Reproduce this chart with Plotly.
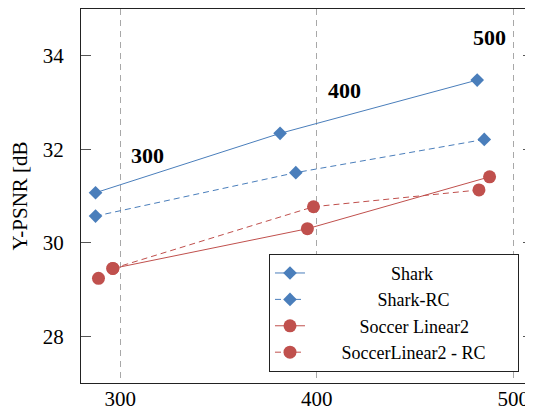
import plotly.graph_objects as go

# ---- data ----
shark_x = [287.4, 381.3, 481.6]
shark_y = [31.07, 32.34, 33.48]
shark_rc_x = [287.4, 389.3, 485.2]
shark_rc_y = [30.57, 31.50, 32.21]
soccer_x = [296.2, 395.2, 487.9]
soccer_y = [29.45, 30.30, 31.41]
soccer_rc_x = [296.2, 398.3, 482.5]
soccer_rc_y = [29.45, 30.77, 31.13]
soccer_extra_x = [288.9]
soccer_extra_y = [29.24]

series_names = ["Shark", "Shark-RC", "Soccer Linear2", "SoccerLinear2 - RC"]
x_ticks = [300, 400, 500]
y_ticks = [28, 30, 32, 34]
rate_labels = ["300", "400", "500"]

BLUE = "#4a7ebb"
RED = "#c0504d"
FONT = "Liberation Serif"
NB = "\u00a0"

# pad legend names so they appear centered (like the pgfplots legend)
lead = [18, 15, 11, 7]
trail = [0, 0, 0, 6]
names = [NB * a + n + NB * b for a, n, b in zip(lead, series_names, trail)]

fig = go.Figure()
fig.add_trace(go.Scatter(x=shark_x, y=shark_y, name=names[0], mode="lines+markers",
                         line=dict(color=BLUE, width=1),
                         marker=dict(symbol="diamond", size=10.5, color=BLUE)))
fig.add_trace(go.Scatter(x=shark_rc_x, y=shark_rc_y, name=names[1], mode="lines+markers",
                         line=dict(color=BLUE, width=1, dash="6px,4px"),
                         marker=dict(symbol="diamond", size=10.5, color=BLUE)))
fig.add_trace(go.Scatter(x=soccer_x, y=soccer_y, name=names[2], mode="lines+markers",
                         line=dict(color=RED, width=1),
                         marker=dict(symbol="circle", size=13, color=RED)))
fig.add_trace(go.Scatter(x=soccer_rc_x, y=soccer_rc_y, name=names[3], mode="lines+markers",
                         line=dict(color=RED, width=1, dash="6px,4px"),
                         marker=dict(symbol="circle", size=13, color=RED)))
fig.add_trace(go.Scatter(x=soccer_extra_x, y=soccer_extra_y, mode="markers", showlegend=False,
                         marker=dict(symbol="circle", size=13, color=RED)))

label_pos = [(313.6, 31.87), (414.1, 33.26), (488.1, 34.40)]
for t, (lx, ly) in zip(rate_labels, label_pos):
    fig.add_annotation(x=lx, y=ly, text="<b>" + t + "</b>", showarrow=False,
                       font=dict(family=FONT, size=22, color="black"))

# the page body has an 8px margin, so the figure is sized to fit the window
fig.update_layout(
    width=525, height=403,
    margin=dict(l=73, r=0, t=1, b=28),
    paper_bgcolor="white", plot_bgcolor="white",
    font=dict(family=FONT, size=21, color="black"),
    showlegend=True,
    legend=dict(x=0.969, y=0.03, xanchor="right", yanchor="bottom",
                bgcolor="white", bordercolor="#222", borderwidth=1,
                font=dict(family=FONT, size=18), tracegroupgap=0),
    xaxis=dict(range=[280, 510], tickvals=x_ticks, ticks="", showline=True, mirror=True,
               linecolor="#222", linewidth=1, showgrid=True, gridcolor="#a8a8a8",
               gridwidth=1.3, griddash="6px,5px", zeroline=False, automargin=False,
               ticklabelstandoff=-3,
               tickfont=dict(family=FONT, size=21)),
    yaxis=dict(range=[27, 35], tickvals=y_ticks, ticks="inside", ticklen=10,
               tickcolor="#555", showline=True, mirror="ticks", linecolor="#222",
               linewidth=1, showgrid=False, zeroline=False, ticklabelstandoff=12,
               automargin=False,
               tickfont=dict(family=FONT, size=21),
               title=dict(text="Y-PSNR [dB", font=dict(family=FONT, size=21), standoff=14)),
)

fig.write_html("out.html")
